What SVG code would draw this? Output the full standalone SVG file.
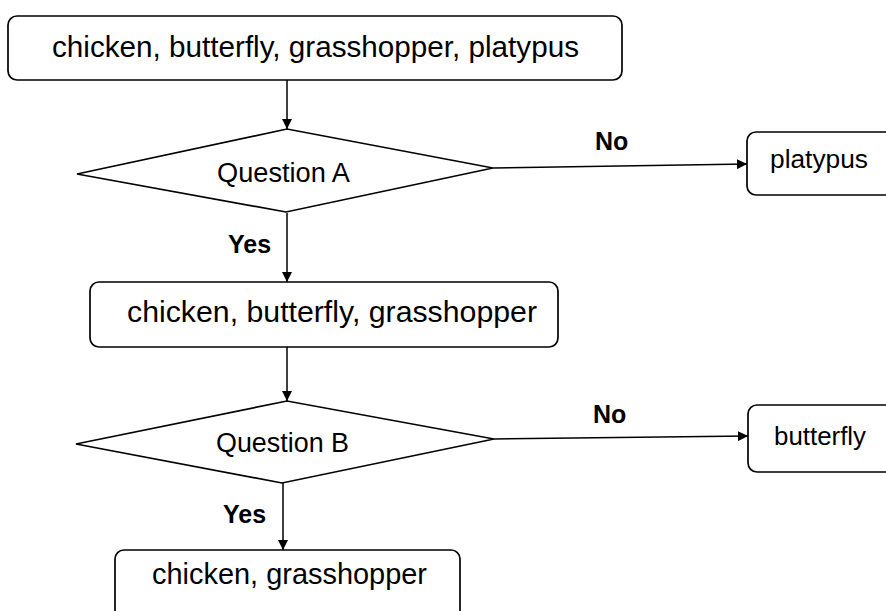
<svg xmlns="http://www.w3.org/2000/svg" width="886" height="611" viewBox="0 0 886 611">
<defs>
<marker id="ah" viewBox="0 0 10 10" refX="10" refY="5" markerWidth="10" markerHeight="10" markerUnits="userSpaceOnUse" orient="auto">
<path d="M0,0 L10,5 L0,10 z" fill="#000"/>
</marker>
<style>
.box{fill:#fff;stroke:#000;stroke-width:1.7}
.dia{fill:#fff;stroke:#000;stroke-width:1.7}
.t{font-family:"Liberation Sans",Arial,sans-serif;fill:#000}
.lbl{font-family:"Liberation Sans",Arial,sans-serif;font-weight:bold;fill:#000;font-size:25px}
.edge{stroke:#000;stroke-width:1.5;fill:none;marker-end:url(#ah)}
</style>
</defs>
<rect width="886" height="611" fill="#fff"/>
<g id="connectors">
<line class="edge" x1="287" y1="80" x2="287" y2="129"/>
<line class="edge" x1="287" y1="213" x2="287" y2="282"/>
<line class="edge" x1="493" y1="168" x2="747" y2="164"/>
<line class="edge" x1="287" y1="347" x2="287" y2="401"/>
<line class="edge" x1="494" y1="439" x2="748" y2="436"/>
<line class="edge" x1="283" y1="483" x2="283" y2="550"/>
<text class="lbl" x="228" y="253">Yes</text>
<text class="lbl" x="595" y="150">No</text>
<text class="lbl" x="593" y="423">No</text>
<text class="lbl" x="223" y="523">Yes</text>
</g>
<g id="n_all">
<rect class="box" x="8" y="16" width="614" height="64" rx="9"/>
<text class="t" x="52" y="57" font-size="30" textLength="527" lengthAdjust="spacingAndGlyphs">chicken, butterfly, grasshopper, platypus</text>
</g>
<g id="n_qa">
<polygon class="dia" points="77,174 287,129 493,168 286,212"/>
<text class="t" x="217" y="182" font-size="27" textLength="133" lengthAdjust="spacingAndGlyphs">Question A</text>
</g>
<g id="n_platypus">
<rect class="box" x="747" y="132" width="160" height="63" rx="9"/>
<text class="t" x="770" y="168" font-size="26" textLength="98" lengthAdjust="spacingAndGlyphs">platypus</text>
</g>
<g id="n_cbg">
<rect class="box" x="90" y="282" width="468" height="65" rx="9"/>
<text class="t" x="127" y="322" font-size="30" textLength="410" lengthAdjust="spacingAndGlyphs">chicken, butterfly, grasshopper</text>
</g>
<g id="n_qb">
<polygon class="dia" points="76,444 287,401 494,439 282,483"/>
<text class="t" x="216" y="452" font-size="27" textLength="133" lengthAdjust="spacingAndGlyphs">Question B</text>
</g>
<g id="n_butterfly">
<rect class="box" x="748" y="405" width="160" height="67" rx="9"/>
<text class="t" x="774" y="445" font-size="26" textLength="92" lengthAdjust="spacingAndGlyphs">butterfly</text>
</g>
<g id="n_cg">
<rect class="box" x="115" y="550" width="345" height="70" rx="9"/>
<text class="t" x="152" y="584" font-size="30" textLength="275" lengthAdjust="spacingAndGlyphs">chicken, grasshopper</text>
</g>
</svg>
